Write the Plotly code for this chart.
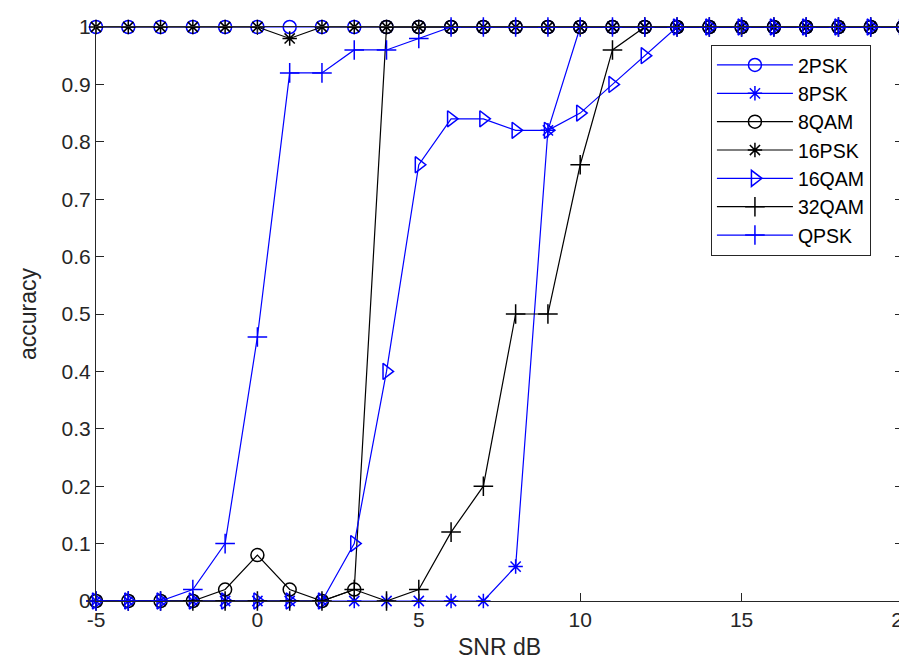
import plotly.graph_objects as go

snr = list(range(-5, 21))

acc_2psk = [1]*26
acc_8psk = [0]*13 + [0.06, 0.82] + [1]*11
acc_8qam = [0, 0, 0, 0, 0.02, 0.08, 0.02, 0, 0.02] + [1]*17
acc_16psk = [1]*6 + [0.98] + [1]*19
acc_16qam = [0]*8 + [0.1, 0.4, 0.76, 0.84, 0.84, 0.82, 0.82, 0.85, 0.9, 0.95] + [1]*8
acc_32qam = [0]*8 + [0.02, 0, 0.02, 0.12, 0.2, 0.5, 0.5, 0.76, 0.96] + [1]*9
acc_qpsk = [0, 0, 0, 0.02, 0.1, 0.46, 0.92, 0.92, 0.96, 0.96, 0.98] + [1]*15

x_ticks = [-5, 0, 5, 10, 15, 20]
y_ticks = [0, 0.1, 0.2, 0.3, 0.4, 0.5, 0.6, 0.7, 0.8, 0.9, 1]
y_tick_labels = ["0", "0.1", "0.2", "0.3", "0.4", "0.5", "0.6", "0.7", "0.8", "0.9", "1"]

BLUE = "#0000ff"
BLACK = "#000000"
AX = "#262626"

series = [
    ("2PSK", acc_2psk, BLUE, "circle-open", 13),
    ("8PSK", acc_8psk, BLUE, "asterisk-open", 12),
    ("8QAM", acc_8qam, BLACK, "circle-open", 13),
    ("16PSK", acc_16psk, BLACK, "asterisk-open", 12),
    ("16QAM", acc_16qam, BLUE, "triangle-right-open", 14),
    ("32QAM", acc_32qam, BLACK, "cross-thin-open", 14),
    ("QPSK", acc_qpsk, BLUE, "cross-thin-open", 14),
]

fig = go.Figure()
for name, ys, col, sym, sz in series:
    fig.add_trace(go.Scatter(
        x=snr, y=ys, name=name, mode="lines+markers",
        line=dict(color=col, width=1.2),
        marker=dict(symbol=sym, size=sz, color=col, line=dict(color=col, width=1.5)),
        cliponaxis=False,
    ))

fig.update_layout(
    width=907, height=661,
    margin=dict(l=88, r=12, t=19, b=68, autoexpand=False),
    paper_bgcolor="white", plot_bgcolor="white",
    font=dict(family="Arial, Liberation Sans, sans-serif", size=21, color=AX),
    showlegend=True,
    legend=dict(
        x=0.762, y=0.969, xanchor="left", yanchor="top",
        bgcolor="white", bordercolor=AX, borderwidth=1,
        font=dict(size=19.5, color="#000000"),
        tracegroupgap=0, itemsizing="trace",
        itemwidth=76,
    ),
    xaxis=dict(
        range=[-5, 20], tickvals=x_ticks, ticktext=[str(v) for v in x_ticks],
        showgrid=False, zeroline=False, showline=True, linecolor=AX, linewidth=1,
        mirror="ticks", ticks="inside", ticklen=8, tickcolor=AX,
        automargin=False,
        title=dict(text="SNR dB", font=dict(size=23, color=AX), standoff=8),
        tickfont=dict(size=21, color=AX),
    ),
    yaxis=dict(
        range=[0, 1], tickvals=y_ticks, ticktext=y_tick_labels,
        showgrid=False, zeroline=False, showline=True, linecolor=AX, linewidth=1,
        mirror="ticks", ticks="inside", ticklen=8, tickcolor=AX,
        automargin=False,
        title=dict(text="accuracy", font=dict(size=23, color=AX), standoff=18),
        tickfont=dict(size=21, color=AX),
    ),
)

fig.write_html("out.html")
